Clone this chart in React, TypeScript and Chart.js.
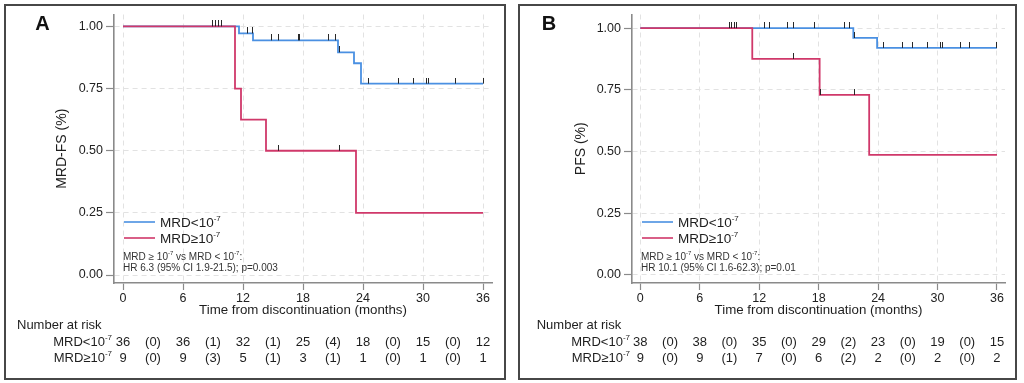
import React, { useEffect, useRef } from "react";
import { Chart, registerables } from "chart.js";

Chart.register(...registerables);

const FONT = '"Liberation Sans", Arial, Helvetica, sans-serif';
const BLUE = "#4a90e2";
const RED = "#d0386a";
const TEXT = "#1e1e1e";
const AXIS = "#8a8a8a";
const GRID = "#e2e2e2";

const X_TICKS = [0, 6, 12, 18, 24, 30, 36];
const Y_TICKS = [0, 0.25, 0.5, 0.75, 1];
const RISK_TIMES = [0, 3, 6, 9, 12, 15, 18, 21, 24, 27, 30, 33, 36];

const LABEL_LOW = "MRD<10⁻⁷";
const LABEL_HIGH = "MRD≥10⁻⁷";
const X_TITLE = "Time from discontinuation (months)";

// ---------- Panel A ----------
const A_LOW_TIMES = [0, 11.6, 13.0, 21.5, 23.1, 23.8, 36];
const A_LOW_SURV = [1, 0.972, 0.944, 0.896, 0.852, 0.77, 0.77];
const A_HIGH_TIMES = [0, 11.2, 11.8, 14.3, 23.3, 36];
const A_HIGH_SURV = [1, 0.75, 0.625, 0.5, 0.25, 0.25];
const A_LOW_CENSORED = [8.9, 9.2, 9.5, 9.8, 12.4, 12.9, 14.8, 15.5, 17.5, 17.6, 20.5, 21.2, 21.6, 24.5, 27.5, 29.0, 30.3, 30.5, 33.2, 36];
const A_HIGH_CENSORED = [15.5, 21.6];
const A_RISK_LOW = ["36", "(0)", "36", "(1)", "32", "(1)", "25", "(4)", "18", "(0)", "15", "(0)", "12"];
const A_RISK_HIGH = ["9", "(0)", "9", "(3)", "5", "(1)", "3", "(1)", "1", "(0)", "1", "(0)", "1"];
const A_NOTE = ["MRD ≥ 10⁻⁷ vs MRD < 10⁻⁷:", "HR 6.3 (95% CI 1.9-21.5); p=0.003"];

// ---------- Panel B ----------
const B_LOW_TIMES = [0, 21.5, 23.9, 36];
const B_LOW_SURV = [1, 0.96, 0.92, 0.92];
const B_HIGH_TIMES = [0, 11.3, 18.1, 23.1, 36];
const B_HIGH_SURV = [1, 0.875, 0.729, 0.486, 0.486];
const B_LOW_CENSORED = [9.0, 9.2, 9.5, 9.7, 12.5, 13.0, 14.9, 15.5, 17.6, 20.6, 21.1, 21.6, 24.5, 26.5, 27.5, 29.0, 30.3, 30.5, 32.3, 33.2, 36];
const B_HIGH_CENSORED = [15.5, 18.2, 21.6];
const B_RISK_LOW = ["38", "(0)", "38", "(0)", "35", "(0)", "29", "(2)", "23", "(0)", "19", "(0)", "15"];
const B_RISK_HIGH = ["9", "(0)", "9", "(1)", "7", "(0)", "6", "(2)", "2", "(0)", "2", "(0)", "2"];
const B_NOTE = ["MRD ≥ 10⁻⁷ vs MRD < 10⁻⁷:", "HR 10.1 (95% CI 1.6-62.3); p=0.01"];

const SUP: Record<string, string> = {
  "⁻": "-", "⁰": "0", "¹": "1", "²": "2", "³": "3", "⁴": "4",
  "⁵": "5", "⁶": "6", "⁷": "7", "⁸": "8", "⁹": "9",
};

function toRuns(text: string) {
  const out: { t: string; sup: boolean }[] = [];
  for (const ch of text) {
    const sup = ch in SUP;
    const c = sup ? SUP[ch] : ch;
    const last = out[out.length - 1];
    if (last && last.sup === sup) last.t += c;
    else out.push({ t: c, sup });
  }
  return out;
}

function drawRich(ctx: CanvasRenderingContext2D, text: string, x: number, y: number, size: number, align: string, color: string) {
  const runs = toRuns(text);
  const fN = `${size}px ${FONT}`;
  const fS = `${Math.round(size * 0.6)}px ${FONT}`;
  let w = 0;
  for (const r of runs) {
    ctx.font = r.sup ? fS : fN;
    w += ctx.measureText(r.t).width;
  }
  let cx = align === "right" ? x - w : align === "center" ? x - w / 2 : x;
  const base = y + size * 0.36;
  ctx.textBaseline = "alphabetic";
  ctx.textAlign = "left";
  ctx.fillStyle = color;
  for (const r of runs) {
    ctx.font = r.sup ? fS : fN;
    ctx.fillText(r.t, cx, r.sup ? base - size * 0.42 : base);
    cx += ctx.measureText(r.t).width;
  }
}

function survAt(times: number[], surv: number[], t: number) {
  let s = surv[0];
  for (let i = 0; i < times.length; i++) if (times[i] <= t) s = surv[i];
  return s;
}

type PanelProps = {
  left: number;
  width: number;
  letter: string;
  letterX: number;
  yTitle: string;
  yTitlePad: number;
  yWidth: number;
  padTop: number;
  padRight: number;
  xMin: number;
  xMax: number;
  yMin: number;
  yMax: number;
  lowTimes: number[];
  lowSurv: number[];
  highTimes: number[];
  highSurv: number[];
  lowCens: number[];
  highCens: number[];
  riskLow: string[];
  riskHigh: string[];
  note: string[];
  nrX: number;
};

const HEIGHT = 376;

function Panel(p: PanelProps) {
  const ref = useRef<HTMLCanvasElement | null>(null);
  useEffect(() => {
    const canvas = ref.current!;
    const tick = document.createElement("canvas");
    tick.width = 1;
    tick.height = 12;
    const tctx = tick.getContext("2d")!;
    tctx.fillStyle = "rgba(30,30,30,0.95)";
    tctx.fillRect(0, 0, 1, 6);

    const line = (times: number[], surv: number[]) => times.map((t, i) => ({ x: t, y: surv[i] }));
    const cens = (ts: number[], times: number[], surv: number[]) => ts.map((t) => ({ x: t, y: survAt(times, surv, t) }));

    const overlay = {
      id: "overlay",
      afterDraw(chart: any) {
        const ctx = chart.ctx as CanvasRenderingContext2D;
        const area = chart.chartArea;
        const xs = chart.scales.x;
        ctx.save();
        // panel border
        ctx.strokeStyle = "#474747";
        ctx.lineWidth = 2;
        ctx.strokeRect(1, 1, p.width - 2, HEIGHT - 2);
        // letter
        ctx.fillStyle = "#111";
        ctx.font = `bold 20px ${FONT}`;
        ctx.textAlign = "center";
        ctx.textBaseline = "middle";
        ctx.fillText(p.letter, p.letterX, 20.5);
        // legend
        const ds = chart.data.datasets.filter((d: any) => d.isCurve);
        const legendY = [area.bottom - 61, area.bottom - 45];
        ds.forEach((d: any, i: number) => {
          ctx.strokeStyle = d.borderColor;
          ctx.lineWidth = 1.6;
          ctx.beginPath();
          ctx.moveTo(area.left + 10, legendY[i]);
          ctx.lineTo(area.left + 41, legendY[i]);
          ctx.stroke();
          drawRich(ctx, d.label, area.left + 46, legendY[i], 13.5, "left", TEXT);
        });
        // note
        drawRich(ctx, p.note[0], area.left + 9, area.bottom - 27, 10, "left", "#333");
        drawRich(ctx, p.note[1], area.left + 9, area.bottom - 16, 10, "left", "#333");
        // number at risk
        drawRich(ctx, "Number at risk", p.nrX, 320, 13, "left", TEXT);
        drawRich(ctx, LABEL_LOW, area.left - 2, 337, 13, "right", TEXT);
        drawRich(ctx, LABEL_HIGH, area.left - 2, 353, 13, "right", TEXT);
        RISK_TIMES.forEach((t, i) => {
          const px = xs.getPixelForValue(t);
          drawRich(ctx, p.riskLow[i], px, 337, 13, "center", TEXT);
          drawRich(ctx, p.riskHigh[i], px, 353, 13, "center", TEXT);
        });
        ctx.restore();
      },
    };

    const chart = new Chart(canvas, {
      type: "scatter",
      data: {
        datasets: [
          {
            label: "censored",
            data: [...cens(p.lowCens, p.lowTimes, p.lowSurv), ...cens(p.highCens, p.highTimes, p.highSurv)],
            pointStyle: tick as any,
            pointRadius: 3,
            showLine: false,
            order: 0,
          } as any,
          {
            label: LABEL_LOW,
            isCurve: true,
            data: line(p.lowTimes, p.lowSurv),
            borderColor: BLUE,
            backgroundColor: BLUE,
            borderWidth: 1.8,
            showLine: true,
            stepped: true,
            pointRadius: 0,
            order: 2,
          },
          {
            label: LABEL_HIGH,
            isCurve: true,
            data: line(p.highTimes, p.highSurv),
            borderColor: RED,
            backgroundColor: RED,
            borderWidth: 1.8,
            showLine: true,
            stepped: true,
            pointRadius: 0,
            order: 1,
          },
        ],
      },
      options: {
        animation: false,
        responsive: false,
        devicePixelRatio: 1,
        layout: { padding: { left: 0, top: p.padTop, right: p.padRight, bottom: HEIGHT - 40 - 279 } },
        plugins: { legend: { display: false }, tooltip: { enabled: false } },
        scales: {
          x: {
            type: "linear",
            min: p.xMin,
            max: p.xMax,
            afterBuildTicks: (s: any) => {
              s.ticks = X_TICKS.map((v) => ({ value: v }));
            },
            afterFit: (s: any) => {
              s.height = 40;
            },
            ticks: {
              font: { family: FONT, size: 12.5 },
              color: "#222",
              padding: 1,
              maxRotation: 0,
              callback: (v: any) => String(v),
            },
            grid: { color: GRID, tickColor: AXIS, tickLength: 7, lineWidth: 1, tickWidth: 1.2 },
            border: { color: AXIS, width: 1.6, dash: [5, 4] },
            title: {
              display: true,
              text: X_TITLE,
              font: { family: FONT, size: 13.3 },
              color: TEXT,
              padding: { top: 0, bottom: 5 },
            },
          },
          y: {
            type: "linear",
            min: p.yMin,
            max: p.yMax,
            afterBuildTicks: (s: any) => {
              s.ticks = Y_TICKS.map((v) => ({ value: v }));
            },
            afterFit: (s: any) => {
              s.width = p.yWidth;
            },
            ticks: {
              font: { family: FONT, size: 12.5 },
              color: "#222",
              padding: 3,
              callback: (v: any) => Number(v).toFixed(2),
            },
            grid: { color: GRID, tickColor: AXIS, tickLength: 8, lineWidth: 1, tickWidth: 1.2 },
            border: { color: AXIS, width: 1.6, dash: [5, 4] },
            title: {
              display: true,
              text: p.yTitle,
              font: { family: FONT, size: 14 },
              color: TEXT,
              padding: { top: p.yTitlePad, bottom: 0 },
            },
          },
        },
      },
      plugins: [overlay],
    } as any);
    return () => chart.destroy();
  }, []);
  return (
    <canvas
      ref={ref}
      width={p.width}
      height={HEIGHT}
      style={{ position: "absolute", left: p.left, top: 4, width: p.width, height: HEIGHT }}
    />
  );
}

export default function App() {
  return (
    <div style={{ position: "absolute", left: 0, top: 0, width: 1024, height: 383, background: "#fff", overflow: "hidden" }}>
      <Panel
        left={4}
        width={502}
        letter="A"
        letterX={38.5}
        yTitle="MRD-FS (%)"
        yTitlePad={50}
        yWidth={110}
        padTop={8}
        padRight={14}
        xMin={-0.9}
        xMax={36.9}
        yMin={-0.032}
        yMax={1.048}
        lowTimes={A_LOW_TIMES}
        lowSurv={A_LOW_SURV}
        highTimes={A_HIGH_TIMES}
        highSurv={A_HIGH_SURV}
        lowCens={A_LOW_CENSORED}
        highCens={A_HIGH_CENSORED}
        riskLow={A_RISK_LOW}
        riskHigh={A_RISK_HIGH}
        note={A_NOTE}
        nrX={13}
      />
      <Panel
        left={518}
        width={499}
        letter="B"
        letterX={31}
        yTitle="PFS (%)"
        yTitlePad={55}
        yWidth={114}
        padTop={9}
        padRight={12}
        xMin={-0.84}
        xMax={36.81}
        yMin={-0.033}
        yMax={1.055}
        lowTimes={B_LOW_TIMES}
        lowSurv={B_LOW_SURV}
        highTimes={B_HIGH_TIMES}
        highSurv={B_HIGH_SURV}
        lowCens={B_LOW_CENSORED}
        highCens={B_HIGH_CENSORED}
        riskLow={B_RISK_LOW}
        riskHigh={B_RISK_HIGH}
        note={B_NOTE}
        nrX={18.7}
      />
    </div>
  );
}
